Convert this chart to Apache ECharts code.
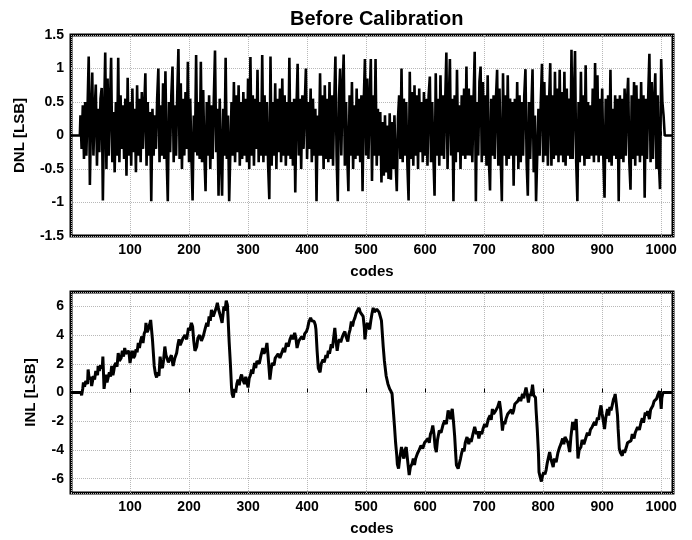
<!DOCTYPE html>
<html>
<head>
<meta charset="utf-8">
<script src="https://cdn.jsdelivr.net/npm/echarts@6/dist/echarts.min.js"></script>
<style>
html,body{margin:0;padding:0;background:#fff;}
#chart{width:692px;height:540px;}
</style>
</head>
<body>
<div id="chart"></div>
<script>
// ---- Data ----
const titleText = 'Before Calibration';
const xTicks = [100, 200, 300, 400, 500, 600, 700, 800, 900, 1000];

const dnlStartCode = 16;
const dnlCodeStep = 2;
const dnlValues = [
  0.3, -0.2, 0.45, -0.35, 0.5, -0.3, 0.4, 1.18, -0.74, 0.3,
  0.94, -0.3, 0.35, 0.76, -0.45, 0.4, -0.25, 0.55, 0.71, -0.97,
  0.3, 1.24, -0.5, 0.85, -0.3, 0.45, 1.16, -0.4, 0.35, -0.55,
  0.5, -0.3, 1.16, -0.4, 0.6, -0.2, 0.45, -0.35, 0.55, -0.6,
  0.86, -0.3, 0.5, -0.45, 0.7, -0.25, 0.4, -0.55, 0.75, -0.3,
  0.55, -0.4, 0.65, -0.2, 0.4, 0.93, -0.45, 0.5, -0.3, 0.35,
  -0.98, 0.4, -0.3, 0.3, -0.2, 0.55, 1.0, -0.4, 0.45, -0.3,
  0.78, -0.35, 0.96, -0.3, -0.98, 0.5, -0.25, 0.6, 1.03, -0.4,
  0.45, -0.3, 0.6, 1.29, -0.35, 0.78, -0.5, 0.55, -0.3, 0.65,
  -0.2, 1.1, -0.4, 0.55, -0.3, -0.97, 0.3, -0.25, 1.2, -0.3,
  0.5, -0.35, 1.1, -0.4, 0.68, -0.3, -0.83, 0.5, -0.3, 0.6,
  -0.5, 0.45, -0.35, 0.55, 1.27, -0.25, 0.4, -0.9, 0.55, -0.3,
  -0.9, 0.4, -0.3, 1.16, -0.35, 0.3, -0.98, -0.98, 0.5, -0.3,
  0.8, -0.4, 0.6, -0.25, 0.75, -0.45, 0.5, -0.35, 0.65, -0.3,
  0.55, -0.4, 0.85, -0.5, 1.17, -0.3, 0.6, -0.45, 0.55, -0.2,
  0.98, -0.4, 0.5, -0.3, 1.2, -0.4, 0.6, -0.3, 0.5, -0.45,
  -0.95, 1.18, -0.45, 0.5, -0.3, 0.78, -0.5, 0.55, -0.25, 0.7,
  -0.4, 0.85, -0.3, 0.6, -0.45, 0.5, -0.3, 1.16, -0.35, 0.5,
  -0.45, 0.55, -0.85, 0.4, 1.07, -0.3, 0.55, -0.5, 0.6, -0.2,
  0.45, 1.0, -0.35, 0.5, -0.2, 0.7, -0.4, 0.55, -0.3, 0.4,
  -0.98, 0.3, -0.3, 0.93, -0.3, 0.6, -0.5, 0.75, -0.35, 0.55,
  -0.4, 0.8, -0.35, 0.6, -0.45, 0.5, 1.18, -0.3, -0.98, 0.55,
  1.0, -0.3, 0.65, 1.21, -0.45, 0.5, -0.3, -0.83, 0.6, -0.3,
  0.8, -0.5, 0.45, -0.35, 0.7, -0.3, 0.55, -0.4, 0.6, -0.83,
  0.5, 1.14, -0.3, 0.85, -0.35, 0.5, 1.14, -0.68, 0.6, -0.3,
  1.14, -0.45, 0.4, -0.3, 0.35, -0.7, 0.2, -0.6, 0.3, -0.55,
  0.15, -0.65, 0.33, -0.66, 0.2, -0.5, 0.3, -0.4, -0.83, 0.25,
  0.6, -0.35, 1.0, -0.4, 0.55, -0.3, 0.5, -0.45, -0.97, 0.95,
  -0.35, 0.65, -0.45, 0.75, -0.3, 0.6, -0.5, 0.7, -0.25, 0.5,
  -0.4, 0.65, -0.3, 0.55, -0.45, 0.6, 0.88, -0.4, 0.5, -0.3,
  -0.9, 0.93, -0.3, 0.55, -0.45, 0.9, -0.3, 0.6, -0.35, 0.5,
  1.24, -0.5, 0.45, 1.14, -0.3, 0.55, -0.98, 0.6, -0.4, 0.98,
  -0.25, 0.45, -0.5, 0.6, -0.3, 0.7, -0.35, 1.03, -0.3, 0.7,
  -0.3, 0.6, -0.4, 0.5, 1.25, -0.98, 0.5, -0.3, 0.8, 1.03,
  -0.4, 0.8, -0.3, 0.6, -0.45, 0.9, -0.35, -0.82, 0.55, -0.3,
  0.6, -0.35, 0.55, 0.98, -0.45, 0.7, -0.3, -0.98, 0.93, -0.3,
  0.6, -0.45, 0.9, -0.35, 0.55, -0.3, 0.5, -0.75, 0.55, -0.3,
  0.8, -0.5, 0.6, -0.4, 0.5, -0.3, 0.6, 0.99, -0.4, -0.9,
  0.5, -0.35, 0.4, 0.99, -0.55, 0.3, -0.98, -0.98, 0.4, -0.3,
  0.5, 1.07, -0.4, 0.8, -0.3, 0.6, -0.45, 0.5, 1.08, -0.45,
  0.6, -0.35, 0.95, -0.3, 0.7, -0.4, 0.98, -0.3, 0.65, -0.4,
  0.95, -0.45, 0.7, -0.3, 0.55, -0.35, 1.28, -0.35, 0.5, 1.26,
  -0.4, -0.98, 0.5, -0.4, 0.95, -0.3, 0.6, -0.45, 1.05, -0.35,
  0.5, -0.35, 0.45, -0.3, 0.7, -0.4, 1.08, -0.3, 0.9, -0.4,
  0.55, -0.3, 0.7, -0.35, -0.93, 0.55, -0.35, 0.6, -0.4, 0.98,
  -0.45, 0.4, -0.3, 0.6, -0.35, 0.55, -0.98, 0.6, -0.35, 0.55,
  -0.4, 0.7, -0.3, 0.5, 0.86, -0.4, -0.81, 0.6, -0.35, 0.8,
  -0.45, 0.75, -0.3, 0.55, -0.4, 0.8, -0.3, 0.6, -0.93, 0.55,
  -0.35, 0.6, 1.22, -0.4, 0.8, -0.35, 0.5, 0.93, -0.5, 0.6,
  -0.4, -0.8, 1.14, 0.5, 0.3
];
// flat (zero) parts at both ends of the code range
const dnlLeadCodes = [0, 15];
const dnlTailCodes = [1006, 1020];

// INL: [code, value] points
const inlPoints = [
  [0,0],[17,0],[18,-0.2],[20,0.3],[21,0.7],[23,0.4],[25,0.8],[26,0.9],[28,0.6],[29,1.6],
  [31,0.9],[33,1.1],[35,0.45],[37,0.9],[38,1.15],[40,0.9],[42,1.5],[43,1.4],[45,1.2],[46,1.85],
  [48,1.5],[50,1.9],[52,1.95],[53,1.7],[54,2.5],[55,1.4],[56,0.25],[58,0.9],[60,1.25],[61,0.7],
  [63,0.8],[65,1.4],[67,1.1],[69,1.85],[71,1.2],[72,1.4],[74,1.9],[76,2.05],[78,1.8],[80,2.75],
  [82,2.2],[85,2.4],[87,2.9],[89,2.5],[91,3.1],[93,2.7],[96,2.65],[98,2.9],[100,2.05],[102,2.6],
  [104,2.9],[106,2.4],[108,2.55],[110,3.0],[112,2.8],[114,3.45],[116,3.1],[118,3.6],[120,3.9],[122,3.45],
  [124,4.1],[126,4.3],[127,4.85],[129,4.2],[131,4.4],[133,4.7],[135,5.05],[136,4.6],[138,3.7],[141,1.85],
  [143,1.3],[145,1.05],[147,1.4],[149,1.15],[151,2.5],[153,1.9],[155,1.7],[157,2.3],[159,3.2],[161,2.6],
  [162,2.55],[165,2.1],[168,2.2],[170,2.6],[173,1.85],[176,2.4],[179,2.75],[181,3.3],[183,3.7],[185,3.3],
  [187,3.2],[190,3.8],[193,4.0],[196,3.7],[199,4.5],[201,4.3],[204,4.85],[206,4.6],[208,3.6],[210,2.9],
  [213,3.2],[215,3.8],[218,4.0],[221,3.6],[224,3.9],[227,4.4],[230,4.85],[232,4.6],[234,5.3],[236,5.0],
  [238,5.75],[241,5.3],[244,5.4],[246,5.9],[248,6.25],[250,5.8],[252,5.75],[254,5.2],[256,4.85],[258,5.6],
  [259,6.0],[261,5.7],[263,6.4],[265,6.1],[266,5.3],[268,3.5],[270,2.05],[272,0.35],[273,-0.1],[275,-0.35],
  [277,0.25],[279,0.0],[281,0.6],[283,0.9],[285,0.5],[287,1.0],[289,1.25],[291,0.9],[294,0.6],[296,1.1],
  [298,0.7],[300,0.35],[302,1.0],[304,1.2],[306,1.6],[308,1.3],[311,2.05],[313,1.7],[315,2.2],[317,2.3],
  [319,2.0],[322,2.6],[325,3.1],[327,2.7],[330,3.0],[332,3.45],[334,2.5],[337,0.9],[339,1.6],[341,2.05],
  [344,1.9],[346,2.4],[348,2.3],[351,2.7],[354,2.4],[357,2.75],[360,3.1],[362,2.8],[365,3.45],[368,3.2],
  [371,3.7],[374,4.0],[376,3.7],[379,4.15],[381,3.8],[383,3.1],[386,3.6],[388,3.5],[391,3.9],[394,3.7],
  [396,4.1],[399,4.25],[401,4.5],[403,4.9],[406,5.2],[408,5.0],[410,5.1],[412,4.95],[414,4.7],[415,4.4],
  [417,2.9],[419,1.7],[422,1.4],[424,2.0],[427,2.3],[429,2.1],[432,2.6],[434,2.4],[436,2.9],[438,2.7],
  [441,3.35],[443,3.1],[445,3.8],[447,4.5],[449,3.6],[451,2.9],[453,3.5],[455,3.7],[457,3.5],[460,3.9],
  [462,4.1],[464,4.25],[466,3.9],[469,3.55],[471,4.1],[473,4.4],[475,4.95],[477,4.6],[479,5.0],[481,5.2],
  [483,5.5],[486,5.75],[488,5.9],[490,5.6],[492,5.5],[495,5.3],[497,4.5],[498,3.7],[500,4.4],[502,4.85],
  [504,4.6],[506,4.4],[508,5.0],[510,5.5],[512,5.9],[514,5.6],[516,5.5],[518,5.8],[520,5.9],[522,5.6],
  [524,5.65],[526,5.0],[529,3.2],[531,2.2],[534,1.15],[537,0.6],[540,0.25],[542,0.1],[544,-0.1],[546,-1.2],
  [548,-2.3],[550,-3.5],[552,-4.4],[553,-5.0],[555,-5.3],[557,-4.6],[560,-3.8],[562,-4.3],[564,-4.6],[566,-4.0],
  [568,-3.8],[570,-4.6],[573,-5.75],[575,-5.2],[578,-4.95],[580,-4.6],[582,-5.05],[584,-4.6],[587,-4.25],[590,-4.0],
  [593,-3.7],[596,-3.9],[599,-3.5],[602,-3.45],[605,-3.2],[607,-3.5],[609,-2.9],[611,-2.7],[613,-2.3],[615,-2.9],
  [617,-3.8],[619,-4.15],[621,-3.3],[624,-2.65],[627,-2.8],[630,-2.3],[633,-1.95],[636,-2.2],[639,-1.25],[641,-1.6],
  [643,-1.85],[645,-1.3],[646,-1.15],[648,-2.0],[650,-3.0],[652,-4.4],[653,-5.05],[656,-5.3],[658,-5.3],[660,-4.6],
  [662,-4.2],[664,-3.9],[666,-4.1],[668,-3.5],[671,-3.1],[674,-3.6],[676,-3.2],[678,-3.45],[681,-2.9],[684,-2.4],
  [687,-2.9],[689,-2.7],[691,-3.2],[694,-2.7],[696,-2.9],[698,-2.55],[701,-2.2],[704,-2.4],[707,-1.85],[710,-1.6],
  [712,-1.9],[714,-1.15],[716,-1.5],[719,-1.3],[721,-1.4],[723,-1.0],[726,-0.6],[728,-1.2],[731,-2.65],[733,-2.0],
  [735,-2.2],[737,-1.85],[740,-1.5],[743,-1.6],[746,-1.2],[748,-1.5],[750,-1.25],[752,-0.8],[754,-0.9],[757,-0.6],
  [760,-0.35],[762,-0.6],[765,-0.1],[767,-0.4],[769,0.0],[771,0.35],[773,-0.1],[775,-0.7],[777,-0.1],[779,-0.25],
  [781,0.2],[782,0.55],[784,-0.2],[787,-0.35],[788,-1.2],[790,-2.55],[792,-4.2],[793,-5.55],[795,-5.9],[797,-6.2],
  [799,-5.8],[801,-5.55],[803,-5.7],[805,-5.4],[807,-4.9],[809,-5.0],[811,-4.15],[813,-4.6],[815,-4.9],[817,-5.2],
  [819,-4.6],[822,-4.85],[825,-4.2],[828,-3.8],[830,-3.6],[833,-3.2],[835,-3.6],[837,-3.1],[840,-3.0],[842,-3.5],
  [845,-4.15],[847,-3.1],[850,-2.05],[852,-2.6],[854,-2.3],[856,-1.85],[857,-2.7],[859,-4.6],[861,-4.0],[864,-3.8],
  [866,-3.3],[869,-3.6],[872,-3.2],[875,-2.8],[878,-3.0],[880,-2.6],[883,-2.4],[885,-2.5],[887,-2.05],[889,-2.3],
  [892,-1.75],[894,-1.9],[896,-1.3],[898,-0.9],[900,-1.5],[902,-2.0],[904,-2.55],[906,-1.8],[909,-1.15],[911,-1.6],
  [913,-1.0],[915,-1.25],[917,-0.9],[919,-0.5],[921,-0.3],[922,-0.1],[924,-0.8],[926,-1.6],[927,-2.5],[929,-3.9],
  [931,-4.2],[934,-4.4],[936,-4.0],[938,-4.2],[941,-3.8],[943,-3.5],[946,-3.6],[949,-3.35],[951,-2.9],[954,-3.2],
  [956,-2.8],[958,-2.75],[960,-2.4],[963,-2.6],[966,-2.05],[968,-1.8],[970,-2.1],[973,-1.4],[975,-1.6],[977,-1.3],
  [980,-1.85],[982,-1.2],[984,-1.1],[986,-0.9],[988,-0.6],[990,-0.7],[992,-0.45],[994,-0.2],[996,-0.3],[997,0.1],
  [999,-0.6],[1000,-1.15],[1001,-0.4],[1003,0.0],[1020,0]
];

// ---- Build series data ----
const dnlData = [];
dnlLeadCodes.forEach(c => dnlData.push([c, 0]));
dnlValues.forEach((v, i) => dnlData.push([dnlStartCode + i * dnlCodeStep, v]));
dnlTailCodes.forEach(c => dnlData.push([c, 0]));
const inlData = inlPoints.map(p => [p[0], p[1]]);

const FONT = "'Liberation Sans', Arial, Helvetica, sans-serif";
const chart = echarts.init(document.getElementById('chart'), null, {renderer: 'canvas'});

function xAxisCfg(gridIndex) {
  return {
    type: 'value', gridIndex, min: 0, max: 1020, interval: 100,
    name: 'codes', nameLocation: 'middle', nameGap: 28,
    nameTextStyle: {fontFamily: FONT, fontWeight: 'bold', fontSize: 15, color: '#000'},
    axisLine: {show: false},
    axisTick: {show: true, inside: true, length: 4, lineStyle: {color: '#000'}},
    axisLabel: {
      fontFamily: FONT, fontWeight: 'bold', fontSize: 14, color: '#000', margin: 7,
      showMinLabel: false, showMaxLabel: false,
      formatter: v => (xTicks.indexOf(v) >= 0 ? String(v) : '')
    },
    splitLine: {show: true, lineStyle: {color: '#b8b8b8', type: 'dotted', width: 1}}
  };
}

const option = {
  animation: false,
  backgroundColor: '#fff',
  title: {
    text: titleText, left: 285, top: 4,
    textStyle: {fontFamily: FONT, fontWeight: 'bold', fontSize: 20, color: '#000'}
  },
  grid: [
    {left: 71, right: 19, top: 35, height: 201, show: true, borderColor: '#000', borderWidth: 3, backgroundColor: 'transparent'},
    {left: 71, right: 19, top: 292, height: 201, show: true, borderColor: '#000', borderWidth: 3, backgroundColor: 'transparent'}
  ],
  xAxis: [xAxisCfg(0), xAxisCfg(1)],
  yAxis: [
    {
      type: 'value', gridIndex: 0, min: -1.5, max: 1.5, interval: 0.5,
      name: 'DNL [LSB]', nameLocation: 'middle', nameGap: 44, nameRotate: 90,
      nameTextStyle: {fontFamily: FONT, fontWeight: 'bold', fontSize: 15, color: '#000'},
      axisLine: {show: false}, axisTick: {show: false},
      axisLabel: {fontFamily: FONT, fontWeight: 'bold', fontSize: 14, color: '#000', margin: 7},
      splitLine: {show: true, lineStyle: {color: '#b8b8b8', type: 'dotted', width: 1}}
    },
    {
      type: 'value', gridIndex: 1, min: -7, max: 7, splitNumber: 7,
      name: 'INL [LSB]', nameLocation: 'middle', nameGap: 33, nameRotate: 90,
      nameTextStyle: {fontFamily: FONT, fontWeight: 'bold', fontSize: 15, color: '#000'},
      axisLine: {show: false}, axisTick: {show: false},
      axisLabel: {fontFamily: FONT, fontWeight: 'bold', fontSize: 14, color: '#000', margin: 7,
        showMinLabel: false, showMaxLabel: false},
      splitLine: {show: true, lineStyle: {color: '#b8b8b8', type: 'dotted', width: 1}}
    }
  ],
  series: [
    {
      type: 'line', xAxisIndex: 0, yAxisIndex: 0, data: dnlData,
      showSymbol: false, symbol: 'none', lineStyle: {color: '#000', width: 2.6}, z: 3
    },
    {
      type: 'line', xAxisIndex: 1, yAxisIndex: 1, data: inlData,
      showSymbol: false, symbol: 'none', lineStyle: {color: '#000', width: 3}, z: 3
    }
  ]
};
chart.setOption(option);
</script>
</body>
</html>
